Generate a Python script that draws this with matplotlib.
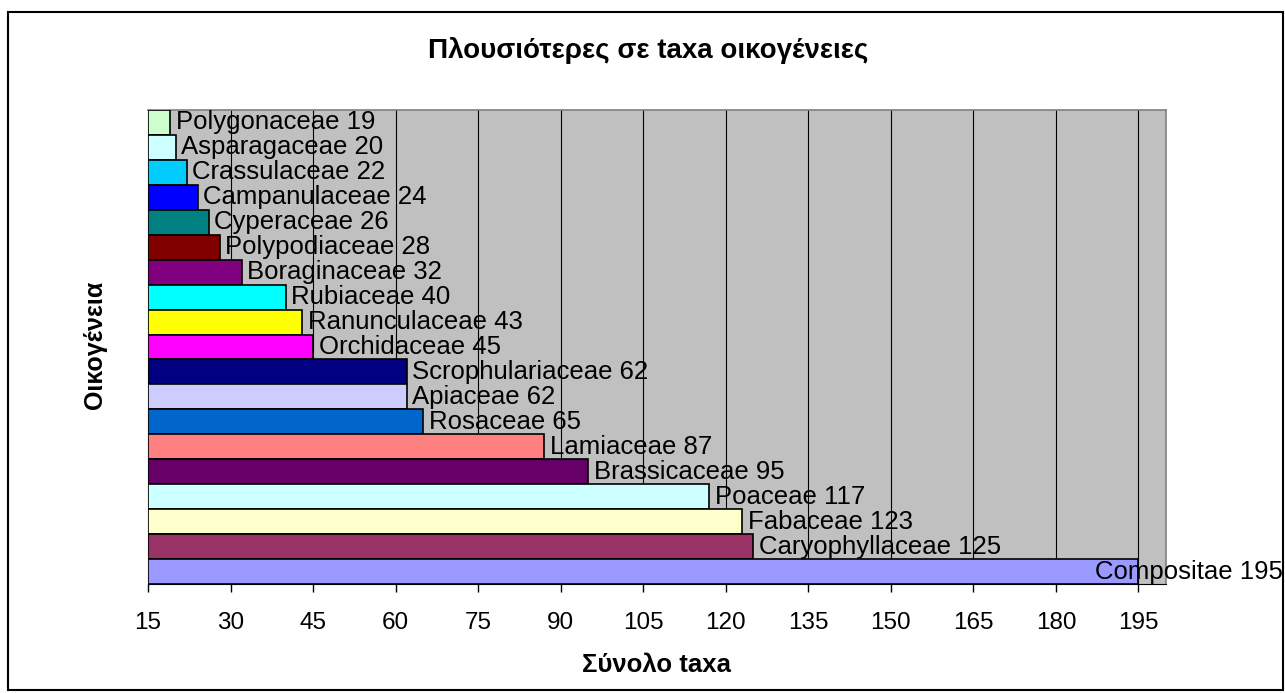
import matplotlib
matplotlib.use("Agg")
import matplotlib.pyplot as plt
from matplotlib.patches import Rectangle

families = ["Polygonaceae", "Asparagaceae", "Crassulaceae", "Campanulaceae", "Cyperaceae",
            "Polypodiaceae", "Boraginaceae", "Rubiaceae", "Ranunculaceae", "Orchidaceae",
            "Scrophulariaceae", "Apiaceae", "Rosaceae", "Lamiaceae", "Brassicaceae",
            "Poaceae", "Fabaceae", "Caryophyllaceae", "Compositae"]
counts = [19, 20, 22, 24, 26, 28, 32, 40, 43, 45, 62, 62, 65, 87, 95, 117, 123, 125, 195]
colors = ["#CCFFCC", "#CCFFFF", "#00CCFF", "#0000FF", "#008080",
          "#800000", "#800080", "#00FFFF", "#FFFF00", "#FF00FF",
          "#000080", "#CCCCFF", "#0066CC", "#FF8080", "#660066",
          "#CCFFFF", "#FFFFCC", "#993366", "#9999FF"]
xticks = list(range(15, 196, 15))

title = "Πλουσιότερες σε taxa οικογένειες"
xlabel = "Σύνολο taxa"
ylabel = "Οικογένεια"

plt.rcParams['font.family'] = ['Liberation Sans', 'DejaVu Sans']

fig = plt.figure(figsize=(12.85, 6.93), dpi=100)
ax = fig.add_axes([148/1285, 1-584/693, (1166-148)/1285, (584-110)/693])
ax.set_facecolor("#C0C0C0")

xmin, xmax = 15, 200
ypos = list(range(len(families)))
ax.barh(ypos, [c - xmin for c in counts], left=xmin, height=1.0, color=colors,
        edgecolor="black", linewidth=1.2, zorder=3)
ax.set_xlim(xmin, xmax)
ax.set_ylim(len(families) - 0.5, -0.5)

for x in xticks[1:]:
    ax.axvline(x, color="black", linewidth=0.8, zorder=1)

LABEL_FS = 18.5
fig_right_px = 1283
for i, (name, c) in enumerate(zip(families, counts)):
    label = f"{name} {c}"
    t = ax.annotate(label, (c, i), xytext=(4, 0), textcoords="offset points",
                    ha="left", va="center", fontsize=LABEL_FS, zorder=5, annotation_clip=False)
    fig.canvas.draw()
    bb = t.get_window_extent()
    if bb.x1 > fig_right_px:
        t.remove()
        ax.annotate(label, (c, i), xytext=(fig_right_px - ax.transData.transform((c, i))[0], 0),
                    textcoords="offset pixels", ha="right", va="center", fontsize=LABEL_FS,
                    zorder=5, annotation_clip=False)

ax.set_xticks(xticks)
ax.set_xticklabels([str(v) for v in xticks], fontsize=17.5)
ax.tick_params(axis="x", direction="out", length=6, width=1, color="black", pad=14)
ax.set_yticks([])
for s in ["top", "right"]:
    ax.spines[s].set_color("#808080")
    ax.spines[s].set_linewidth(1.2)
ax.spines["left"].set_color("black")
ax.spines["bottom"].set_color("black")

fig.text(648/1285, 1-50/693, title, ha="center", va="center", fontsize=20, fontweight="bold")
fig.text(657/1285, 1-665/693, xlabel, ha="center", va="center", fontsize=18.5, fontweight="bold")
fig.text(95/1285, 1-345/693, ylabel, ha="center", va="center", rotation=90, fontsize=18, fontweight="bold")

fig.patches.append(Rectangle((8/1285, 1-690/693), (1283-8)/1285, (690-12)/693,
                             transform=fig.transFigure, fill=False, edgecolor="black",
                             linewidth=1.5))

fig.savefig("out.png", dpi=100)
